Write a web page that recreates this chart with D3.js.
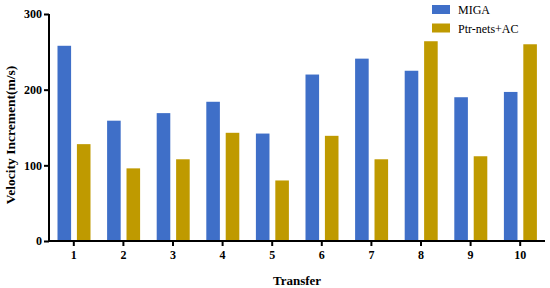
<!DOCTYPE html>
<html>
<head>
<meta charset="utf-8">
<script src="https://cdn.jsdelivr.net/npm/d3@7"></script>
<style>
  body { margin: 0; background: #fff; }
  text { font-family: "Liberation Serif", "DejaVu Serif", serif; }
</style>
</head>
<body>
<svg id="chart"></svg>
<script>
var transfers = ["1", "2", "3", "4", "5", "6", "7", "8", "9", "10"];
var seriesNames = ["MIGA", "Ptr-nets+AC"];
var migaValues = [258, 159, 169, 184, 142, 220, 241, 225, 190, 197];
var ptrValues = [128, 96, 108, 143, 80, 139, 108, 264, 112, 260];
var yTicks = [0, 100, 200, 300];
var colors = ["#3f6fc8", "#bf9a00"];

var width = 550, height = 288;
var svg = d3.select("#chart").attr("width", width).attr("height", height);

var x = d3.scaleBand().domain(transfers).range([49, 545]).padding(0);
var sub = d3.scaleBand().domain(seriesNames).range([8.5, 41.5]).paddingInner(0.3);
var y = d3.scaleLinear().domain([0, 300]).range([241, 14]);

var rows = transfers.map(function(t, i) {
  return { t: t, vals: [migaValues[i], ptrValues[i]] };
});

// bars
var groups = svg.append("g").selectAll("g").data(rows).enter().append("g")
  .attr("transform", function(d) { return "translate(" + x(d.t) + ",0)"; });
groups.selectAll("rect").data(function(d) {
    return d.vals.map(function(v, k) { return { name: seriesNames[k], v: v, k: k }; });
  }).enter().append("rect")
  .attr("x", function(d) { return sub(d.name); })
  .attr("width", sub.bandwidth())
  .attr("y", function(d) { return y(d.v); })
  .attr("height", function(d) { return y(0) - y(d.v); })
  .attr("fill", function(d) { return colors[d.k]; });

// axes
var yAxis = svg.append("g").attr("transform", "translate(49,0)")
  .call(d3.axisLeft(y).tickValues(yTicks).tickSize(5).tickPadding(2).tickFormat(d3.format("d")));
var xAxis = svg.append("g").attr("transform", "translate(0,241)")
  .call(d3.axisBottom(x).tickSize(5).tickPadding(4).tickSizeOuter(0));
[yAxis, xAxis].forEach(function(a) {
  a.select(".domain").attr("stroke", "#000").attr("stroke-width", 2);
  a.selectAll(".tick line").attr("stroke", "#000").attr("stroke-width", 2);
  a.selectAll("text").attr("fill", "#000").style("font-size", "12px").style("font-weight", "bold")
    .style("font-family", "Liberation Serif, serif");
});
yAxis.select(".domain").attr("d", "M0,14V242");
xAxis.select(".domain").attr("d", "M48,0H545");

// axis titles
svg.append("text")
  .attr("transform", "translate(15,135) rotate(-90)")
  .attr("text-anchor", "middle")
  .style("font-size", "13.5px").style("font-weight", "bold")
  .text("Velocity Increment(m/s)");
svg.append("text")
  .attr("x", 297).attr("y", 285)
  .attr("text-anchor", "middle")
  .style("font-size", "13px").style("font-weight", "bold")
  .text("Transfer");

// legend
var legend = svg.append("g").selectAll("g").data(seriesNames).enter().append("g")
  .attr("transform", function(d, i) { return "translate(432," + (5 + i * 18.5) + ")"; });
legend.append("rect").attr("width", 18).attr("height", 9)
  .attr("fill", function(d, i) { return colors[i]; });
legend.append("text").attr("x", 26).attr("y", 9)
  .style("font-size", "12px")
  .text(function(d) { return d; });
</script>
</body>
</html>
